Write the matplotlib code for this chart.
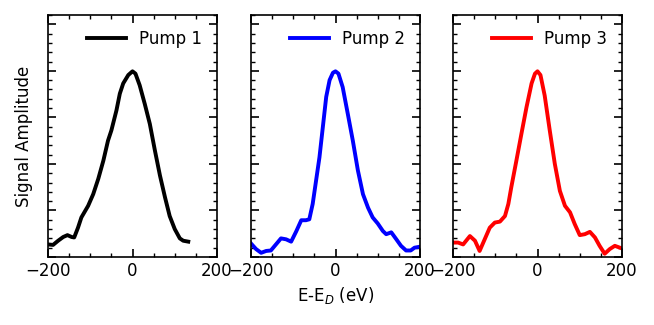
import matplotlib.pyplot as plt
from matplotlib.ticker import MultipleLocator

# Pump 1
x1 = [-200, -188, -176, -164, -154, -144, -138, -129, -121, -105, -93, -81, -69, -58, -50, -38, -30, -22, -10, 0,
      7, 17, 29, 41, 53, 65, 77, 88, 100, 112, 120, 132]
y1 = [0.27, 0.26, 0.35, 0.43, 0.47, 0.43, 0.42, 0.63, 0.85, 1.10, 1.35, 1.68, 2.07, 2.50, 2.72, 3.15, 3.51, 3.73, 3.91, 3.99,
      3.94, 3.69, 3.29, 2.86, 2.29, 1.75, 1.28, 0.88, 0.60, 0.40, 0.35, 0.33]

# Pump 2
x2 = [-200, -188, -176, -164, -153, -141, -129, -117, -105, -93, -81, -70, -62, -54, -46, -38, -30, -22, -14, -6, 0,
      7, 17, 29, 41, 53, 65, 77, 88, 100, 112, 120, 132, 144, 155, 167, 178, 187, 199]
y2 = [0.29, 0.17, 0.09, 0.13, 0.14, 0.27, 0.40, 0.38, 0.33, 0.55, 0.79, 0.79, 0.81, 1.14, 1.64, 2.14, 2.79, 3.44, 3.80, 3.96, 3.99,
      3.94, 3.65, 3.08, 2.50, 1.86, 1.35, 1.06, 0.85, 0.72, 0.56, 0.49, 0.53, 0.38, 0.24, 0.14, 0.14, 0.20, 0.22]

# Pump 3
x3 = [-200, -188, -176, -160, -148, -137, -125, -113, -101, -89, -77, -69, -62, -50, -38, -26, -14, -6, 0,
      7, 17, 29, 41, 53, 65, 77, 88, 100, 112, 124, 136, 147, 159, 171, 183, 195]
y3 = [0.31, 0.31, 0.27, 0.45, 0.35, 0.13, 0.38, 0.63, 0.74, 0.76, 0.88, 1.14, 1.50, 2.07, 2.65, 3.22, 3.73, 3.94, 3.99,
      3.91, 3.47, 2.72, 2.00, 1.42, 1.10, 0.96, 0.71, 0.47, 0.49, 0.54, 0.42, 0.24, 0.07, 0.17, 0.24, 0.20]

series = [(x1, y1, "black", "Pump 1"), (x2, y2, "blue", "Pump 2"), (x3, y3, "red", "Pump 3")]

fig = plt.figure(figsize=(6.54, 3.25), dpi=100)
lefts = [48 / 654, 251 / 654, 453 / 654]
axes = []
for left, (x, y, c, lab) in zip(lefts, series):
    ax = fig.add_axes([left, 1 - 257 / 325, 169 / 654, 242 / 325])
    ax.plot(x, y, color=c, lw=2.8, label=lab, solid_joinstyle="round")
    ax.set_xlim(-200, 200)
    ax.set_ylim(0, 5.2)
    ax.xaxis.set_major_locator(MultipleLocator(200))
    ax.xaxis.set_minor_locator(MultipleLocator(50))
    ax.yaxis.set_major_locator(MultipleLocator(1))
    ax.yaxis.set_minor_locator(MultipleLocator(0.2))
    ax.tick_params(which="both", direction="in", top=True, right=True, labelleft=False, labelsize=12)
    ax.tick_params(which="major", length=6, width=1.2)
    ax.tick_params(which="minor", length=3, width=1)
    for s in ax.spines.values():
        s.set_linewidth(1.2)
    ax.legend(loc="upper right", frameon=False, fontsize=12, handlelength=2.3, handletextpad=0.8)
    axes.append(ax)

axes[0].set_ylabel("Signal Amplitude", fontsize=12, labelpad=11)
axes[1].set_xlabel("E-E$_D$ (eV)", fontsize=12)

plt.savefig("out.png", dpi=100)
